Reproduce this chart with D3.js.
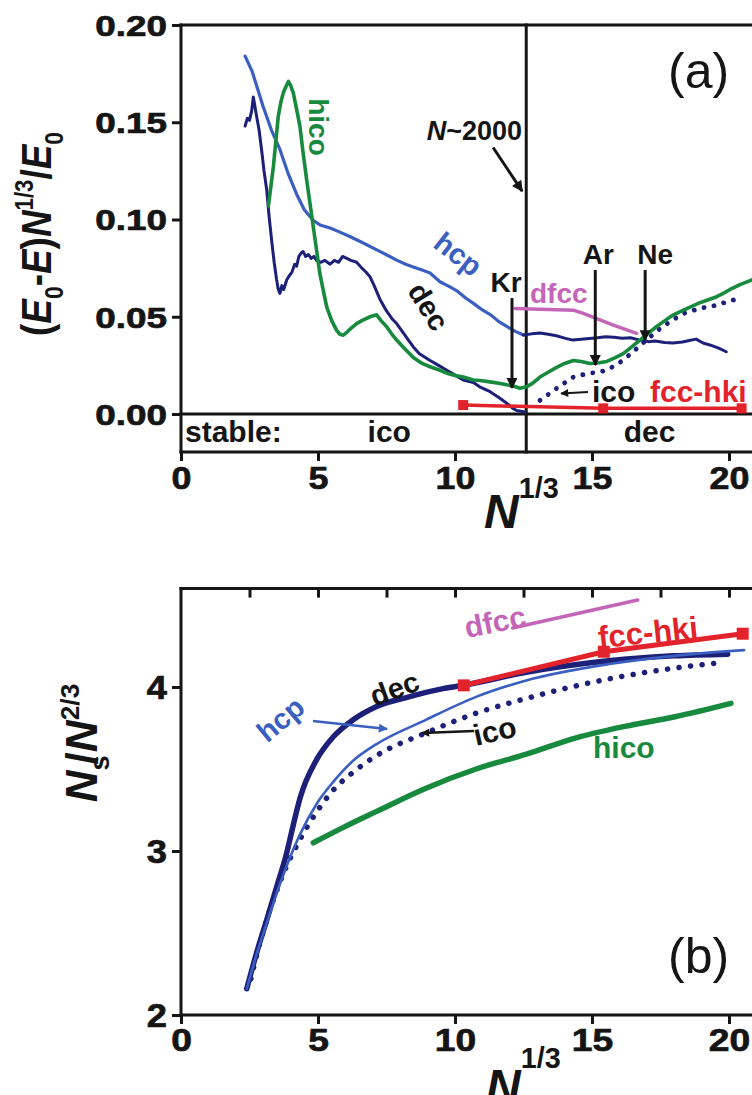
<!DOCTYPE html>
<html>
<head>
<meta charset="utf-8">
<script src="https://cdn.jsdelivr.net/npm/d3@7"></script>
<style>
  html, body { margin: 0; padding: 0; background: #fff; }
  svg { display: block; font-family: "Liberation Sans", Arial, Helvetica, sans-serif; }
</style>
</head>
<body>
<svg id="chart" width="752" height="1095"></svg>
<script>
// ---------- axis ticks ----------
const xTicks = [0, 5, 10, 15, 20];
const yTicksA = [0, 0.05, 0.10, 0.15, 0.20];
const yTicksB = [2, 3, 4];
const xTopTicksB = [2.5, 5, 7.5, 10, 12.5, 15, 17.5, 20];

// ---------- panel (a): (E0-E) N^(1/3) / E0 versus N^(1/3) ----------
const hcpA = [[2.34,0.184],[2.6,0.176],[2.8,0.167],[3.0,0.158],[3.3,0.146],[3.61,0.136],[3.9,0.124],
  [4.22,0.113],[4.5,0.105],[4.83,0.0995],[5.1,0.097],[5.44,0.0956],[5.8,0.0935],[6.2,0.091],[6.65,0.0879],
  [7.2,0.084],[7.55,0.0815],[7.87,0.0791],[8.2,0.077],[8.5,0.0755],[8.8,0.074],[9.09,0.0725],[9.45,0.068],
  [9.8,0.0655],[10.1,0.063],[10.4,0.0595],[10.66,0.057],[11.0,0.0535],[11.3,0.051],[11.6,0.0475],
  [11.89,0.045],[12.2,0.0425],[12.5,0.0406]];
const hcpRightA = [[12.5,0.0406],[12.8,0.0412],[13.1,0.0416],[13.4,0.041],[13.7,0.0402],[14.0,0.039],
  [14.3,0.038],[14.6,0.0384],[14.9,0.0388],[15.2,0.0392],[15.5,0.0397],[15.8,0.0395],[16.1,0.039],
  [16.4,0.0392],[16.75,0.038],[17.05,0.0372],[17.3,0.0375],[17.65,0.0368],[17.96,0.0365],[18.3,0.037],
  [18.55,0.0378],[18.8,0.0385],[19.05,0.0365],[19.3,0.0355],[19.6,0.034],[19.9,0.032]];
const decA = [[2.34,0.148],[2.42,0.152],[2.5,0.151],[2.58,0.156],[2.64,0.163],[2.7,0.158],[2.76,0.153],
  [2.85,0.146],[2.94,0.136],[3.03,0.125],[3.13,0.115],[3.22,0.101],[3.31,0.089],[3.4,0.078],[3.49,0.069],
  [3.55,0.064],[3.61,0.062],[3.68,0.066],[3.75,0.064],[3.86,0.069],[3.95,0.071],[4.05,0.073],[4.15,0.077],
  [4.22,0.076],[4.3,0.081],[4.4,0.083],[4.46,0.0835],[4.55,0.081],[4.65,0.082],[4.75,0.080],[4.85,0.081],
  [4.95,0.079],[5.1,0.078],[5.25,0.079],[5.44,0.077],[5.6,0.079],[5.75,0.078],[5.9,0.081],[6.05,0.080],
  [6.2,0.079],[6.41,0.078],[6.6,0.075],[6.75,0.073],[6.9,0.0705],[7.05,0.066],[7.26,0.059],[7.5,0.053],
  [7.7,0.049],[7.87,0.0465],[8.1,0.042],[8.3,0.038],[8.48,0.0345],[8.7,0.031],[9.09,0.0275],[9.4,0.025],
  [9.7,0.0225],[10.0,0.020],[10.3,0.0175],[10.67,0.0162],[10.9,0.014],[11.28,0.0115],[11.6,0.0085],
  [11.89,0.0055],[12.1,0.003],[12.25,0.0018],[12.55,0.001]];
const hicoA = [[3.19,0.107],[3.28,0.117],[3.37,0.127],[3.46,0.140],[3.55,0.153],[3.64,0.160],[3.73,0.165],
  [3.82,0.168],[3.92,0.171],[4.0,0.169],[4.1,0.165],[4.2,0.158],[4.34,0.148],[4.45,0.135],[4.59,0.120],
  [4.71,0.108],[4.83,0.096],[4.95,0.084],[5.07,0.072],[5.2,0.063],[5.32,0.055],[5.5,0.048],[5.68,0.043],
  [5.8,0.041],[5.92,0.0405],[6.05,0.042],[6.2,0.044],[6.41,0.0465],[6.6,0.048],[6.9,0.050],[7.14,0.051],
  [7.3,0.048],[7.5,0.045],[7.7,0.041],[7.87,0.038],[8.2,0.033],[8.48,0.029],[8.8,0.026],[9.09,0.0243],
  [9.45,0.0225],[9.7,0.021],[10.0,0.0198],[10.3,0.019],[10.67,0.0175],[10.91,0.0172],[11.28,0.0165],
  [11.6,0.0158],[11.89,0.015],[12.1,0.0145],[12.37,0.0132],[12.62,0.014],[12.85,0.016],[13.1,0.019],
  [13.4,0.0215],[13.71,0.024],[14.0,0.026],[14.32,0.0275],[14.6,0.027],[14.93,0.026],[15.2,0.0262],
  [15.54,0.027],[15.85,0.029],[16.14,0.031],[16.45,0.0345],[16.75,0.038],[17.05,0.0415],[17.36,0.045],
  [17.66,0.048],[17.97,0.051],[18.28,0.053],[18.58,0.055],[18.9,0.057],[19.19,0.0585],[19.5,0.060],
  [19.79,0.062],[20.1,0.0645],[20.4,0.0665],[20.84,0.069]];
const icoA = [[13.1,0.007],[13.4,0.010],[13.71,0.0132],[14.0,0.016],[14.32,0.019],[14.6,0.020],
  [14.93,0.021],[15.25,0.0215],[15.54,0.0226],[15.85,0.025],[16.14,0.0277],[16.5,0.032],[16.9,0.037],
  [17.4,0.043],[17.9,0.048],[18.4,0.052],[18.94,0.0543],[19.25,0.055],[19.55,0.056],[20.0,0.058],[20.4,0.0595]];
const dfccA = [[12.19,0.0543],[14.32,0.0534],[14.68,0.0517],[15.78,0.0457],[16.63,0.0415]];
const fccHkiA = [[10.3,0.0046],[15.41,0.0029],[20.46,0.0029]];
const crossoverA = 12.6; // N ~ 2000

// element arrows in panel (a): x position, arrow start and tip values
const elementArrows = [
  { name: "Kr", x: 12.08, from: 0.0596, to: 0.0134, dx: -6 },
  { name: "Ar", x: 15.12, from: 0.0740, to: 0.0252, dx: 3 },
  { name: "Ne", x: 16.94, from: 0.0740, to: 0.0380, dx: 10 }
];

// ---------- panel (b): Ns / N^(2/3) versus N^(1/3) ----------
const decB = [[2.40,2.16],[2.76,2.38],[3.13,2.58],[3.49,2.78],[3.86,2.99],[4.10,3.16],[4.34,3.32],
  [4.96,3.56],[5.55,3.695],[6.28,3.80],[7.12,3.88],[8.32,3.94],[9.56,3.99],[10.29,4.01],[12.6,4.09],
  [15.6,4.16],[18.0,4.19],[19.95,4.20]];
const hcpB = [[2.40,2.16],[2.76,2.37],[3.13,2.56],[3.49,2.74],[3.86,2.91],[4.34,3.10],[4.96,3.29],
  [5.55,3.42],[6.28,3.55],[7.12,3.65],[8.94,3.80],[10.77,3.94],[12.6,4.04],[15.63,4.14],[18.0,4.19],[20.55,4.225]];
const icoB = [[2.55,2.22],[2.88,2.44],[3.13,2.58],[3.73,2.86],[4.34,3.07],[4.96,3.24],[5.55,3.37],
  [6.28,3.48],[7.12,3.58],[8.94,3.72],[10.77,3.84],[12.6,3.93],[15.63,4.05],[17.8,4.11],[19.77,4.15]];
const hicoB = [[4.83,3.05],[6.0,3.15],[7.12,3.24],[8.9,3.38],[10.77,3.50],[12.6,3.59],[14.42,3.69],
  [16.2,3.76],[18.07,3.82],[20.07,3.90]];
const dfccB = [[12.1,4.36],[16.67,4.53]];
const fccHkiB = [[10.32,4.01],[15.43,4.215],[20.5,4.325]];

// ---------- colours ----------
const C = {
  hcp: "#3b5fc0", dec: "#1d2078", hico: "#178a3e", dfcc: "#c465b8", fcc: "#e3232b", ink: "#151515"
};

// ---------- scales ----------
const svg = d3.select("#chart");
const x = d3.scaleLinear().domain([0, 21]).range([181, 756.4]);
const yA = d3.scaleLinear().domain([0, 0.2]).range([414, 25]);
const yB = d3.scaleLinear().domain([2, 4.6]).range([1015, 588.6]);
const stripBottom = 452;          // lower edge of the "stable:" strip in panel (a)
const axisW = 3;

// ---------- helpers ----------
const defs = svg.append("defs");
function arrowHead(id, color, len, wid) {
  defs.append("marker").attr("id", id)
    .attr("viewBox", "0 0 10 10").attr("refX", 9).attr("refY", 5)
    .attr("markerWidth", len).attr("markerHeight", wid)
    .attr("markerUnits", "userSpaceOnUse").attr("orient", "auto")
    .append("path").attr("d", "M0,0 L10,5 L0,10 Z").attr("fill", color);
}
arrowHead("ahBlack", C.ink, 16, 11);
arrowHead("ahSmall", C.ink, 11, 8);
arrowHead("ahBlue", C.hcp, 12, 9);

function hline(g, x1, x2, y) {
  g.append("line").attr("x1", x1).attr("x2", x2).attr("y1", y).attr("y2", y)
    .attr("stroke", C.ink).attr("stroke-width", axisW).attr("stroke-linecap", "square");
}
function vline(g, xx, y1, y2) {
  g.append("line").attr("x1", xx).attr("x2", xx).attr("y1", y1).attr("y2", y2)
    .attr("stroke", C.ink).attr("stroke-width", axisW).attr("stroke-linecap", "square");
}

// rich text with italic / sub / sup runs
function richText(g, parts, o) {
  const t = g.append("text")
    .attr("transform", o.transform)
    .attr("font-size", o.size)
    .attr("font-weight", o.weight || "bold")
    .attr("fill", o.fill || C.ink)
    .attr("text-anchor", o.anchor || "start");
  let shift = 0;
  const supShift = o.supShift || 0.42;
  parts.forEach(p => {
    const ts = t.append("tspan").text(p.t);
    let target = 0, fs = o.size;
    if (p.sub) { target = o.size * 0.28; fs = o.size * 0.62; }
    if (p.sup) { target = -o.size * supShift; fs = o.size * 0.6; }
    ts.attr("font-size", fs);
    if (target !== shift) ts.attr("dy", target - shift);
    shift = target;
    if (p.i) ts.attr("font-style", "italic");
    if (p.dx) ts.attr("dx", p.dx);
  });
  return t;
}
function label(g, txt, o) {
  return g.append("text")
    .attr("transform", o.transform)
    .attr("font-size", o.size)
    .attr("font-weight", o.weight || "bold")
    .attr("font-style", o.italic ? "italic" : null)
    .attr("fill", o.fill || C.ink)
    .attr("text-anchor", o.anchor || "start")
    .text(txt);
}
function styleTicks(axisG, size, sx, isLeft) {
  axisG.select(".domain").remove();
  axisG.selectAll(".tick line").attr("stroke", C.ink).attr("stroke-width", axisW);
  const t = axisG.selectAll(".tick text").attr("fill", C.ink).attr("font-size", size)
    .attr("font-weight", "bold").attr("font-family", null)
    .attr("stroke", C.ink).attr("stroke-width", 0.7)
    .attr("transform", `scale(${sx},1)`);
  if (isLeft) t.attr("x", -14 / sx).attr("dy", "0.36em");
  else t.attr("y", 14).attr("dy", "0.71em");
}

// ================= PANEL (a) =================
const gA = svg.append("g");

// frame
hline(gA, x(0), x(21), yA(0.2));
hline(gA, x(0), x(21), yA(0));
hline(gA, x(0), x(21), stripBottom);
vline(gA, x(0), yA(0.2), stripBottom);
vline(gA, x(21), yA(0.2), stripBottom);
vline(gA, x(crossoverA), yA(0.2), stripBottom);

// axes
styleTicks(gA.append("g").attr("transform", `translate(${x(0)},0)`)
  .call(d3.axisLeft(yA).tickValues(yTicksA).tickSize(9).tickSizeOuter(0).tickFormat(d3.format(".2f"))),
  29, 1.27, true);
styleTicks(gA.append("g").attr("transform", `translate(0,${stripBottom})`)
  .call(d3.axisBottom(x).tickValues(xTicks).tickSize(9).tickSizeOuter(0).tickFormat(d3.format("d"))),
  32, 1.12, false);

// strip text
const stripY = 442;
label(gA, "stable:", { transform: `translate(${x(0) + 4},${stripY})`, size: 30 });
label(gA, "ico", { transform: `translate(${x(7.6)},${stripY})`, size: 30, anchor: "middle" });
label(gA, "dec", { transform: `translate(${x(17.1)},${stripY})`, size: 30, anchor: "middle" });

// curves
const lineA = d3.line().x(d => x(d[0])).y(d => yA(d[1]));
function drawA(data, color, w, extra) {
  const p = gA.append("path").datum(data).attr("d", lineA).attr("fill", "none")
    .attr("stroke", color).attr("stroke-width", w).attr("stroke-linejoin", "round").attr("stroke-linecap", "round");
  if (extra) extra(p);
  return p;
}
drawA(dfccA, C.dfcc, 3.5);
drawA(hcpA, C.hcp, 3.2);
drawA(hcpRightA, C.dec, 3);
drawA(decA, C.dec, 3);
drawA(icoA, C.dec, 4.8, p => p.attr("stroke-dasharray", "0.1 10"));
drawA(hicoA, C.hico, 3.6);
drawA(fccHkiA, C.fcc, 3.5);
gA.selectAll("rect.fccA").data(fccHkiA).join("rect").attr("class", "fccA")
  .attr("x", d => x(d[0]) - 5).attr("y", d => yA(d[1]) - 5).attr("width", 10).attr("height", 10)
  .attr("fill", C.fcc);

// element arrows
elementArrows.forEach(a => {
  gA.append("line").attr("x1", x(a.x)).attr("x2", x(a.x)).attr("y1", yA(a.from)).attr("y2", yA(a.to))
    .attr("stroke", C.ink).attr("stroke-width", 3).attr("marker-end", "url(#ahBlack)");
  label(gA, a.name, { transform: `translate(${x(a.x) + a.dx},${yA(a.from) - 6})`, size: 28, anchor: "middle" });
});

// N ~ 2000 pointer
gA.append("line").attr("x1", x(11.39)).attr("y1", yA(0.137)).attr("x2", x(12.45)).attr("y2", yA(0.1146))
  .attr("stroke", C.ink).attr("stroke-width", 3).attr("marker-end", "url(#ahBlack)");
richText(gA, [{ t: "N", i: true }, { t: "~2000" }], { transform: `translate(${x(12.45)},140)`, size: 27, anchor: "end" });

// ico pointer
gA.append("line").attr("x1", 588).attr("y1", 392).attr("x2", 561).attr("y2", 393.5)
  .attr("stroke", C.ink).attr("stroke-width", 2).attr("marker-end", "url(#ahSmall)");

// curve labels
label(gA, "hico", { transform: `translate(309,127) rotate(90)`, size: 28, fill: C.hico, anchor: "middle" });
label(gA, "hcp", { transform: `translate(452,262) rotate(38)`, size: 29, fill: C.hcp, anchor: "middle" });
label(gA, "dec", { transform: `translate(420,312) rotate(58)`, size: 29, anchor: "middle" });
label(gA, "dfcc", { transform: `translate(530,303)`, size: 28, fill: C.dfcc });
label(gA, "ico", { transform: `translate(592,402)`, size: 30 });
label(gA, "fcc-hki", { transform: `translate(650,402)`, size: 30, fill: C.fcc });
label(gA, "(a)", { transform: `translate(668,88)`, size: 50, weight: "normal" });

// axis titles
richText(gA, [
  { t: "(" }, { t: "E", i: true }, { t: "0", sub: true }, { t: "-" }, { t: "E", i: true }, { t: ")" },
  { t: "N", i: true }, { t: "1/3", sup: true }, { t: "/" }, { t: "E", i: true }, { t: "0", sub: true }
], { transform: `translate(51,234) rotate(-90) scale(0.88,1)`, size: 42, anchor: "middle" });
richText(gA, [{ t: "N", i: true }, { t: "1/3", sup: true }],
  { transform: `translate(484,528)`, size: 48, supShift: 0.62 });

// ================= PANEL (b) =================
const gB = svg.append("g");
hline(gB, x(0), x(21), yB(4.6));
hline(gB, x(0), x(21), yB(2));
vline(gB, x(0), yB(4.6), yB(2));
vline(gB, x(21), yB(4.6), yB(2));

styleTicks(gB.append("g").attr("transform", `translate(${x(0)},0)`)
  .call(d3.axisLeft(yB).tickValues(yTicksB).tickSize(9).tickSizeOuter(0).tickFormat(d3.format("d"))),
  33, 1.1, true);
styleTicks(gB.append("g").attr("transform", `translate(0,${yB(2)})`)
  .call(d3.axisBottom(x).tickValues(xTicks).tickSize(9).tickSizeOuter(0).tickFormat(d3.format("d"))),
  31, 1.2, false);

// inward ticks along the top edge
const topTicksB = gB.append("g").attr("transform", `translate(0,${yB(4.6)})`)
  .call(d3.axisBottom(x).tickValues(xTopTicksB).tickSize(9).tickSizeOuter(0).tickFormat(""));
topTicksB.select(".domain").remove();
topTicksB.selectAll(".tick line").attr("stroke", C.ink).attr("stroke-width", axisW);

// curves
const lineB = d3.line().x(d => x(d[0])).y(d => yB(d[1])).curve(d3.curveMonotoneX);
function drawB(data, color, w, extra) {
  const p = gB.append("path").datum(data).attr("d", lineB).attr("fill", "none")
    .attr("stroke", color).attr("stroke-width", w).attr("stroke-linejoin", "round").attr("stroke-linecap", "round");
  if (extra) extra(p);
  return p;
}
drawB(hicoB, C.hico, 5.5);
drawB(icoB, C.dec, 5.5, p => p.attr("stroke-dasharray", "0.1 11.5"));
drawB(decB, C.dec, 5.5);
drawB(hcpB, C.hcp, 2.6);
drawB(dfccB, C.dfcc, 3.5);
gB.append("path").datum(fccHkiB).attr("d", d3.line().x(d => x(d[0])).y(d => yB(d[1])))
  .attr("fill", "none").attr("stroke", C.fcc).attr("stroke-width", 5);
gB.selectAll("rect.fccB").data(fccHkiB).join("rect").attr("class", "fccB")
  .attr("x", d => x(d[0]) - 6).attr("y", d => yB(d[1]) - 6).attr("width", 12).attr("height", 12)
  .attr("fill", C.fcc);

// pointers
gB.append("line").attr("x1", 313).attr("y1", 721).attr("x2", 387).attr("y2", 729)
  .attr("stroke", C.hcp).attr("stroke-width", 2.5).attr("marker-end", "url(#ahBlue)");
gB.append("line").attr("x1", 474).attr("y1", 731).attr("x2", 422).attr("y2", 733)
  .attr("stroke", C.ink).attr("stroke-width", 2.5).attr("marker-end", "url(#ahSmall)");

// curve labels
label(gB, "hcp", { transform: `translate(287,727) rotate(-40)`, size: 29, fill: C.hcp, anchor: "middle" });
label(gB, "dec", { transform: `translate(398,698) rotate(-20)`, size: 29, anchor: "middle" });
label(gB, "ico", { transform: `translate(497,741) rotate(-13)`, size: 30, anchor: "middle" });
label(gB, "hico", { transform: `translate(593,758)`, size: 30, fill: C.hico });
label(gB, "dfcc", { transform: `translate(497,632) rotate(-11)`, size: 30, fill: C.dfcc, anchor: "middle" });
label(gB, "fcc-hki", { transform: `translate(649,643) rotate(-6)`, size: 31, fill: C.fcc, anchor: "middle" });
label(gB, "(b)", { transform: `translate(668,973)`, size: 50, weight: "normal" });

// axis titles
richText(gB, [
  { t: "N", i: true }, { t: "s", sub: true }, { t: "/", dx: -9 }, { t: "N", i: true }, { t: "2/3", sup: true }
], { transform: `translate(97,743) rotate(-90)`, size: 44, anchor: "middle" });
richText(gB, [{ t: "N", i: true }, { t: "1/3", sup: true }],
  { transform: `translate(486,1103)`, size: 48, supShift: 0.72 });
</script>
</body>
</html>
